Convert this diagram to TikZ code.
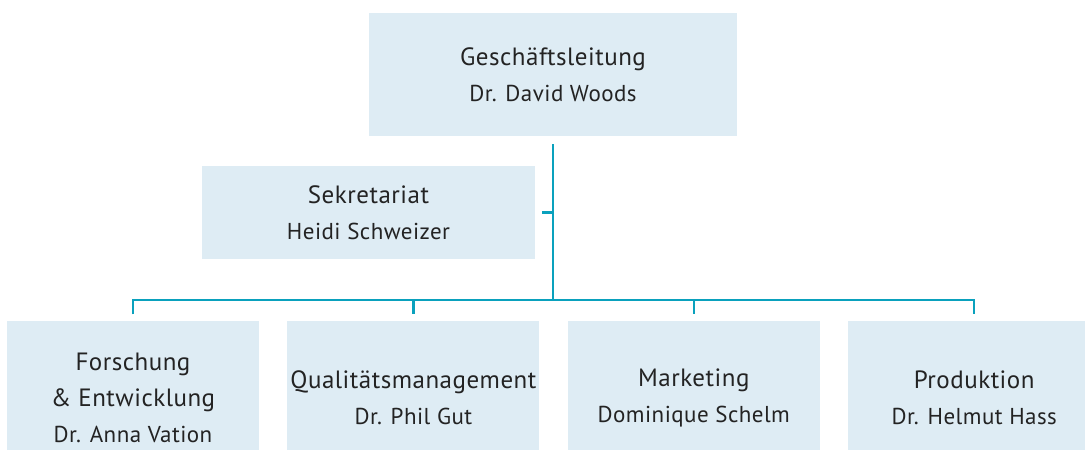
\documentclass[tikz,border=0pt]{standalone}
\usepackage{fontspec}
\setmainfont{PT Sans}[LetterSpace=2]
\usetikzlibrary{positioning}
\definecolor{orgfill}{RGB}{222,236,244}
\definecolor{orgline}{RGB}{10,161,189}
\definecolor{orgtext}{RGB}{35,35,35}

\begin{document}
\begin{tikzpicture}[x=1pt,y=-1pt,
  unit/.style={fill=orgfill,text=orgtext,align=center,inner sep=0pt,
    font=\fontsize{23}{36}\selectfont},
  dept/.style={unit,minimum width=252,minimum height=154},
  wire/.style={draw=orgline,line width=2.5pt}]
  \useasboundingbox (0,0) rectangle (1085,450);
  \clip (0,0) rectangle (1085,450);

  % Geschaeftsleitung
  \node[unit,minimum width=368,minimum height=123] (gl) at (553,74.5)
    {{\fontsize{25}{36}\selectfont Geschäftsleitung}\\Dr. David Woods};

  % Sekretariat
  \node[unit,minimum width=333,minimum height=93] (sek) at (368.5,212.5)
    {{\fontsize{25}{36}\selectfont Sekretariat}\\Heidi Schweizer};

  % Abteilungen
  \node[dept] (fe) at (133,398)
    {{\fontsize{25}{36}\selectfont Forschung}\\{\fontsize{25}{36}\selectfont\&~Entwicklung}\\Dr. Anna Vation};
  \node[dept,right=28pt of fe] (qm)
    {{\fontsize{25}{36}\selectfont Qualitätsmanagement}\\Dr. Phil Gut};
  \node[dept,right=28pt of qm] (mk)
    {{\fontsize{25}{36}\selectfont Marketing}\\Dominique Schelm};
  \node[dept,right=28pt of mk] (pr)
    {{\fontsize{25}{36}\selectfont Produktion}\\Dr. Helmut Hass};

  % Linien
  \coordinate (bus) at (553,300);
  \draw[wire] ([yshift=-8pt]gl.south) -- (bus);
  \draw[wire] ([xshift=7pt]sek.east) -- (sek.east -| bus);
  \draw[wire] ([yshift=6.5pt]fe.north) -- (fe.north |- bus) -- (pr.north |- bus) -- ([yshift=6.5pt]pr.north);
  \draw[wire] (qm.north |- bus) -- ([yshift=6.5pt]qm.north);
  \draw[wire] (mk.north |- bus) -- ([yshift=6.5pt]mk.north);
\end{tikzpicture}
\end{document}
